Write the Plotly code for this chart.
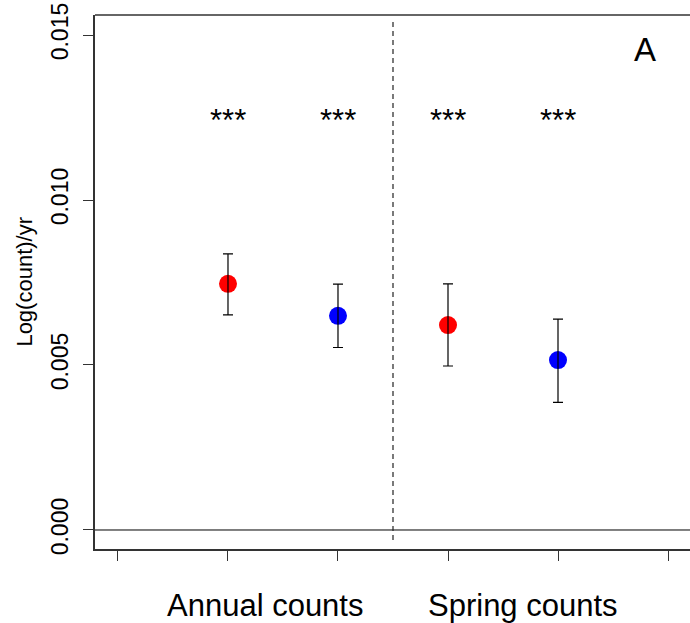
import plotly.graph_objects as go

# Data
groups = [1, 2, 3, 4]
estimates = [0.00746, 0.00649, 0.00621, 0.00515]
upper = [0.00837, 0.00745, 0.00746, 0.00639]
lower = [0.00652, 0.00553, 0.00497, 0.00387]
colors = ["#ff0000", "#0000ff", "#ff0000", "#0000ff"]
sig_labels = ["***", "***", "***", "***"]
sig_y = 0.01242
y_tickvals = [0.0, 0.005, 0.010, 0.015]
y_ticktext = ["0.000", "0.005", "0.010", "0.015"]
x_tickvals = [0, 1, 2, 3, 4, 5]
group_labels = ["Annual counts", "Spring counts"]
group_label_x = [1.34, 3.68]
divider_x = 2.5
panel_label = "A"

FONT = "Liberation Sans, Arial, Helvetica, sans-serif"

err_plus = [u - e for u, e in zip(upper, estimates)]
err_minus = [e - l for e, l in zip(estimates, lower)]

fig = go.Figure()
fig.add_trace(go.Scatter(
    x=groups, y=estimates, mode="markers",
    marker=dict(size=18, color=colors, line=dict(width=0)),
    showlegend=False, hoverinfo="skip",
))
fig.add_trace(go.Scatter(
    x=groups, y=estimates, mode="markers",
    marker=dict(size=1, color="rgba(0,0,0,0)"),
    error_y=dict(type="data", symmetric=False, array=err_plus, arrayminus=err_minus,
                 color="black", thickness=1.2, width=5),
    showlegend=False, hoverinfo="skip",
))

# significance labels
for gx, lab in zip(groups, sig_labels):
    fig.add_annotation(x=gx, y=sig_y, text=lab, showarrow=False,
                       font=dict(size=31, color="black", family=FONT),
                       xanchor="center", yanchor="middle")

# panel label
fig.add_annotation(x=0.925, xref="paper", y=0.935, yref="paper", text=panel_label,
                   showarrow=False, font=dict(size=33, color="black", family=FONT),
                   xanchor="center", yanchor="middle")

# group labels
for gx, lab in zip(group_label_x, group_labels):
    fig.add_annotation(x=gx, y=-0.106, yref="paper", text=lab, showarrow=False,
                       font=dict(size=31, color="black", family=FONT),
                       xanchor="center", yanchor="middle")

# y-axis title
fig.add_annotation(x=-0.12, xref="paper", y=0.5, yref="paper", text="Log(count)/yr",
                   textangle=-90, showarrow=False,
                   font=dict(size=22, color="black", family=FONT),
                   xanchor="center", yanchor="middle")

# horizontal zero line
fig.add_shape(type="line", xref="paper", x0=0, x1=1, yref="y", y0=0, y1=0,
              line=dict(color="black", width=1))
# top frame line
fig.add_shape(type="line", xref="paper", x0=0, x1=1, yref="paper", y0=1, y1=1,
              line=dict(color="#333333", width=1.5))
# dashed divider
fig.add_shape(type="line", x0=divider_x, x1=divider_x, y0=-0.0003, y1=0.0155,
              line=dict(color="#222222", width=1.2, dash="5px,4px"))

fig.update_xaxes(range=[-0.209, 5.2], tickvals=x_tickvals, ticktext=[""] * len(x_tickvals),
                 ticks="outside", ticklen=10, tickwidth=1, tickcolor="#333333",
                 showline=True, linecolor="#333333", linewidth=1.5,
                 showgrid=False, zeroline=False)
fig.update_yaxes(range=[-0.000576, 0.015606], tickvals=y_tickvals, ticktext=y_ticktext,
                 tickangle=-90, ticks="outside", ticklen=10, tickwidth=1, tickcolor="#333333",
                 ticklabelstandoff=6,
                 tickfont=dict(size=23, color="black", family=FONT),
                 showline=True, linecolor="#333333", linewidth=1.5,
                 showgrid=False, zeroline=False)

fig.update_layout(
    width=690, height=623,
    margin=dict(l=95, r=0, t=15, b=74),
    plot_bgcolor="white", paper_bgcolor="white",
    font=dict(family=FONT, color="black"),
)

fig.write_html("out.html", config={"displayModeBar": False},
               post_script="document.body.style.margin='0';document.body.style.padding='0';document.body.style.overflow='hidden';")
